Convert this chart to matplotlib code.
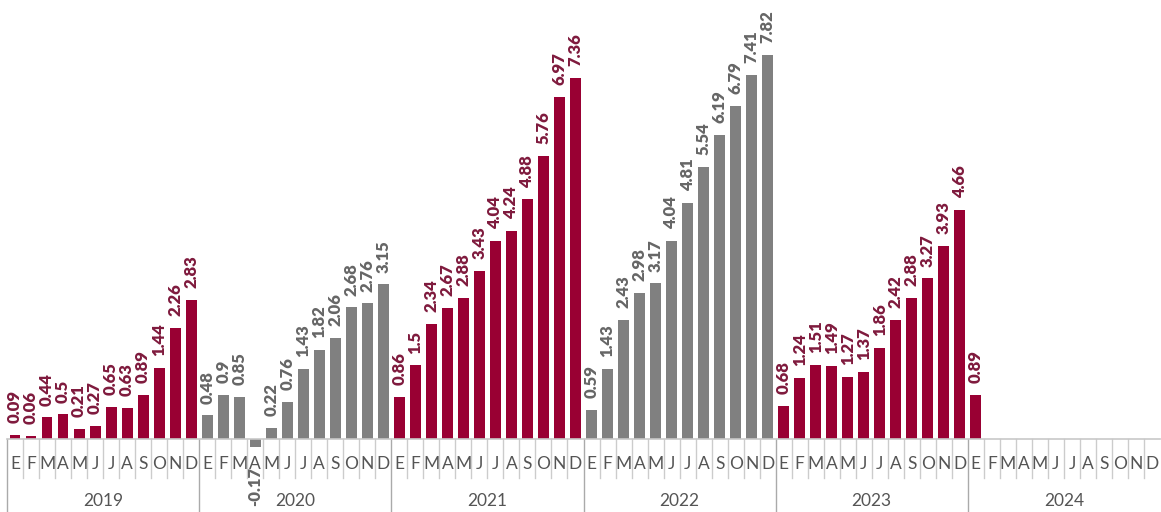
import numpy as np
import matplotlib
matplotlib.use('Agg')
from matplotlib import pyplot as plt

# monthly values (cumulative %), Jan 2019 .. Jan 2024
years = ['2019', '2020', '2021', '2022', '2023', '2024']
months = ['E', 'F', 'M', 'A', 'M', 'J', 'J', 'A', 'S', 'O', 'N', 'D']
v2019 = [0.09, 0.06, 0.44, 0.5, 0.21, 0.27, 0.65, 0.63, 0.89, 1.44, 2.26, 2.83]
v2020 = [0.48, 0.9, 0.85, -0.17, 0.22, 0.76, 1.43, 1.82, 2.06, 2.68, 2.76, 3.15]
v2021 = [0.86, 1.5, 2.34, 2.67, 2.88, 3.43, 4.04, 4.24, 4.88, 5.76, 6.97, 7.36]
v2022 = [0.59, 1.43, 2.43, 2.98, 3.17, 4.04, 4.81, 5.54, 6.19, 6.79, 7.41, 7.82]
v2023 = [0.68, 1.24, 1.51, 1.49, 1.27, 1.37, 1.86, 2.42, 2.88, 3.27, 3.93, 4.66]
v2024 = [0.89]

crimson, crimson_txt = '#990033', '#7f1a3d'
gray, gray_txt = '#808080', '#666666'
year_colors = [(crimson, crimson_txt), (gray, gray_txt), (crimson, crimson_txt),
               (gray, gray_txt), (crimson, crimson_txt), (crimson, crimson_txt)]

plt.rcParams['font.family'] = ['Lato', 'DejaVu Sans']

fig = plt.figure(figsize=(11.61, 5.12), dpi=100)
ax = fig.add_axes([0, 0, 1, 1])
ax.axis('off')

W, H = 1161, 512
left_px, right_px, zero_px, ppu = 7, 1160, 439, 49.1
slot = (right_px - left_px) / 72
ax.set_xlim(-0.5 - left_px / slot, 71.5 + (W - right_px) / slot)
ax.set_ylim(-(H - zero_px) / ppu, zero_px / ppu)

all_years = [v2019, v2020, v2021, v2022, v2023, v2024]
for yi, vals in enumerate(all_years):
    bc, tc = year_colors[yi]
    x = np.arange(len(vals)) + 12 * yi
    ax.bar(x, vals, width=0.68, color=bc, zorder=2)
    for xi, v in zip(x, vals):
        if v >= 0:
            ax.annotate(f'{v:g}', (xi, v), xytext=(0, 8.5), textcoords='offset points',
                        rotation=90, ha='center', va='bottom', color=tc,
                        fontsize=12, fontweight='heavy', zorder=5)
        else:
            ax.annotate(f'{v:g}', (xi, v), xytext=(0, -14), textcoords='offset points',
                        rotation=90, ha='center', va='top', color=tc,
                        fontsize=12, fontweight='heavy', zorder=5)

# axis baseline, month / year separators and labels
ax.plot([-0.5, 71.5], [0, 0], color='#c8c8c8', lw=1.2, zorder=3)
month_bottom = -(478 - zero_px) / ppu
for i in range(72):
    if i % 12 == 0:
        ax.plot([i - 0.5, i - 0.5], [0, -20], color='#aaaaaa', lw=1, zorder=1)
    else:
        ax.plot([i - 0.5, i - 0.5], [0, month_bottom], color='#cccccc', lw=1, zorder=1)
    ax.text(i, -(464 - zero_px) / ppu, months[i % 12], ha='center', va='center',
            fontsize=12.5, color='#555555')
for yi, y in enumerate(years):
    ax.text(12 * yi + 5.5, -(501 - zero_px) / ppu, y, ha='center', va='center',
            fontsize=12.5, color='#555555')

fig.savefig('out.png', dpi=100, facecolor='white')
